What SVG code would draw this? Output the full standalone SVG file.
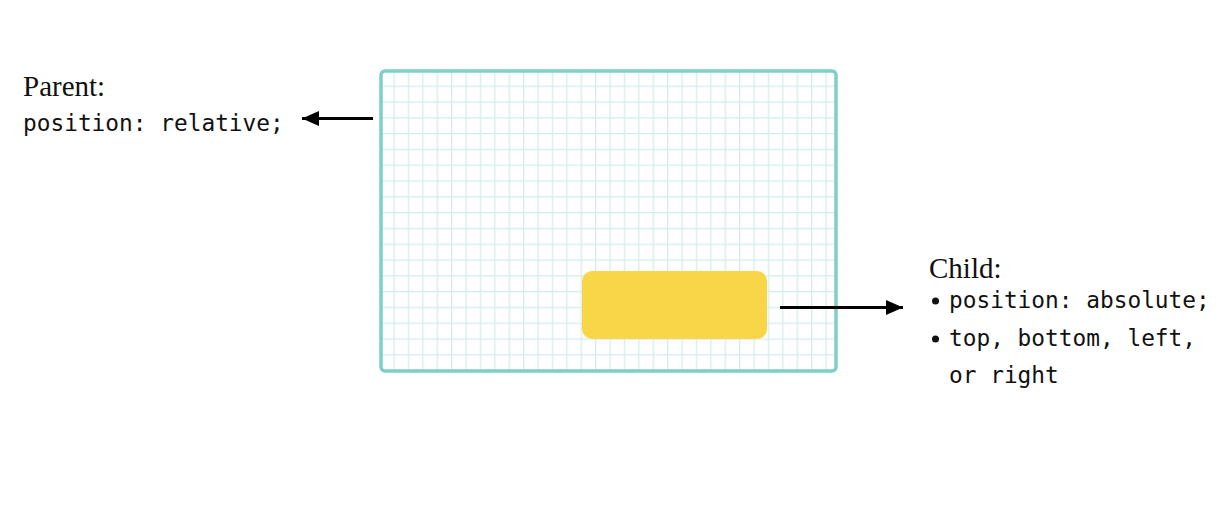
<svg xmlns="http://www.w3.org/2000/svg" width="1222" height="520" viewBox="0 0 1222 520">
  <style>
    .serif { font-family: "Liberation Serif", "Times New Roman", serif; font-size: 29px; fill: #111; }
    .mono { font-family: "DejaVu Sans Mono", "Liberation Mono", monospace; font-size: 22.8px; fill: #111; }
    .conn { stroke: #000; stroke-width: 3; fill: none; }
  </style>
  <defs>
    <pattern id="grid" patternUnits="userSpaceOnUse" x="393.4" y="85.6" width="14.4" height="15.8">
      <rect x="0" y="0" width="1.3" height="15.8" fill="#d3eeeb"/>
      <rect x="0" y="0" width="14.4" height="1.3" fill="#d3eeeb"/>
    </pattern>
    <marker id="arrow" markerUnits="userSpaceOnUse" markerWidth="18" markerHeight="16" refX="17" refY="8" orient="auto">
      <path d="M0,0.5 L17,8 L0,15.5 Z" fill="#000"/>
    </marker>
  </defs>
  <rect width="1222" height="520" fill="#fff"/>

  <g id="parent">
    <rect x="381" y="71" width="455" height="300" rx="4" fill="url(#grid)"/>
    <rect x="381" y="71" width="455" height="300" rx="4" fill="none" stroke="#7fcfc9" stroke-width="3.5"/>
  </g>

  <g id="child">
    <rect x="582" y="271" width="185" height="68" rx="10" fill="#f8d648"/>
  </g>

  <g id="parent-label">
    <text class="serif" x="23" y="96">Parent:</text>
    <text class="mono" x="23" y="131">position: relative;</text>
  </g>

  <g id="child-label">
    <text class="serif" x="929" y="278">Child:</text>
    <circle cx="935.5" cy="301" r="3.5" fill="#111"/>
    <text class="mono" x="949" y="308">position: absolute;</text>
    <circle cx="935.5" cy="339" r="3.5" fill="#111"/>
    <text class="mono" x="949" y="346">top, bottom, left,</text>
    <text class="mono" x="949" y="383">or right</text>
  </g>

  <g id="connectors">
    <line class="conn" x1="373" y1="118.5" x2="302" y2="118.5" marker-end="url(#arrow)"/>
    <line class="conn" x1="780" y1="307.5" x2="903" y2="307.5" marker-end="url(#arrow)"/>
  </g>
</svg>
